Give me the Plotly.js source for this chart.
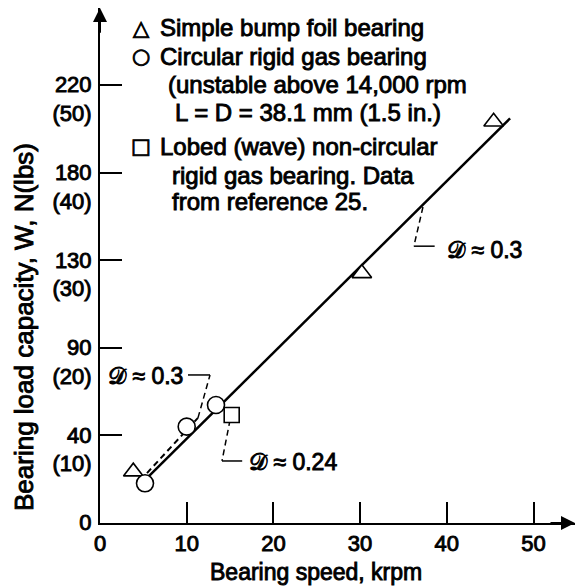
<!DOCTYPE html>
<html>
<head>
<meta charset="utf-8">
<script src="https://cdn.plot.ly/plotly-3.0.1.min.js"></script>
<style>
html,body{margin:0;padding:0;background:#fff;}
#chart{width:575px;height:587px;}
#chart svg text{stroke:#000;stroke-width:0.9px;}
</style>
</head>
<body>
<div id="chart"></div>
<script>
// ---- data (x: bearing speed, krpm; y: load capacity, lbs) ----
const bumpSpeed = [3.84, 30.2, 45.4];
const bumpLoad = [5.86, 28.5, 45.8];
const circSpeed = [5.19, 10.0, 13.38];
const circLoad = [4.53, 11.0, 13.47];
const lobedSpeed = [15.19];
const lobedLoad = [12.33];
const fitSpeed = [5.38, 47.3];
const fitLoad = [5.10, 46.2];
const circFitSpeed = [5.42, 11.3];
const circFitLoad = [5.7, 12.0];
// leader lines for damping labels
const leadA_dashX = [11.3, 12.69], leadA_dashY = [12.0, 16.9];
const leadA_solX = [12.69, 10.15], leadA_solY = [16.9, 16.9];
const leadB_dashX = [37.25, 36.2], leadB_dashY = [36.07, 31.6];
const leadB_solX = [36.2, 38.6], leadB_solY = [31.6, 31.6];
const leadC_dashX = [15.0, 14.07], leadC_dashY = [11.76, 7.08];
const leadC_solX = [14.07, 16.4], leadC_solY = [7.08, 7.08];

const xTickVals = [0, 10, 20, 30, 40, 50];
const xTickText = ['0', '10', '20', '30', '40', '50'];
const yTickVals = [0, 10, 20, 30, 40, 50];
const yTickN = ['0', '40', '90', '130', '180', '220'];
const yTickLbs = ['\u00a0', '(10)', '(20)', '(30)', '(40)', '(50)'];

const xTitle = 'Bearing speed, krpm';
const yTitle = 'Bearing load capacity, W, N(lbs)';

const legendLines = [
  {sym: '\u25B3', text: 'Simple bump foil bearing', indent: 0},
  {sym: '\u25CB', text: 'Circular rigid gas bearing', indent: 0},
  {sym: '', text: '(unstable above 14,000 rpm', indent: 8},
  {sym: '', text: 'L = D = 38.1 mm (1.5 in.)', indent: 15},
  {sym: '\u25A1', text: 'Lobed (wave) non-circular', indent: 0},
  {sym: '', text: 'rigid gas bearing. Data', indent: 12},
  {sym: '', text: 'from reference 25.', indent: 12}
];
const legendRowY = [28, 56, 84, 112, 146, 175, 201];

const dampLabels = [
  {x: 9.8, y: 16.78, text: '\uD835\uDC9F \u2248 0.3', anchor: 'right'},
  {x: 39.8, y: 31.2, text: '\uD835\uDC9F \u2248 0.3', anchor: 'left'},
  {x: 17.0, y: 6.96, text: '\uD835\uDC9F \u2248 0.24', anchor: 'left'}
];

// ---- layout geometry ----
const L = 100, R = 0, T = 8, B = 64, W = 575, H = 587;
const pw = W - L - R, ph = H - T - B;
const xMax = pw / 8.67, yMax = ph / 8.76;
const px = v => (v - L) / pw;
const py = v => (H - B - v) / ph;

const FONT = 'Liberation Sans, Arial, Helvetica, sans-serif';
const black = '#000';

const traces = [
  {x: fitSpeed, y: fitLoad, mode: 'lines', line: {color: black, width: 2.5}, hoverinfo: 'skip'},
  {x: circFitSpeed, y: circFitLoad, mode: 'lines', line: {color: black, width: 2, dash: '6px,4px'}, hoverinfo: 'skip'},
  {x: leadA_dashX, y: leadA_dashY, mode: 'lines', line: {color: black, width: 1.5, dash: '6px,4px'}},
  {x: leadA_solX, y: leadA_solY, mode: 'lines', line: {color: black, width: 1.5}},
  {x: leadB_dashX, y: leadB_dashY, mode: 'lines', line: {color: black, width: 1.5, dash: '6px,4px'}},
  {x: leadB_solX, y: leadB_solY, mode: 'lines', line: {color: black, width: 1.5}},
  {x: leadC_dashX, y: leadC_dashY, mode: 'lines', line: {color: black, width: 1.5, dash: '6px,4px'}},
  {x: leadC_solX, y: leadC_solY, mode: 'lines', line: {color: black, width: 1.5}},
  {x: bumpSpeed, y: bumpLoad, mode: 'markers', name: 'Simple bump foil bearing',
   marker: {symbol: 'triangle-up', size: 17, color: '#fff', line: {color: black, width: 1.6}}},
  {x: circSpeed, y: circLoad, mode: 'markers', name: 'Circular rigid gas bearing',
   marker: {symbol: 'circle', size: 17, color: '#fff', line: {color: black, width: 1.6}}},
  {x: lobedSpeed, y: lobedLoad, mode: 'markers', name: 'Lobed (wave) non-circular rigid gas bearing',
   marker: {symbol: 'square', size: 15, color: '#fff', line: {color: black, width: 1.6}}}
];

const annotations = [];
legendLines.forEach((row, i) => {
  if (row.sym) {
    annotations.push({xref: 'paper', yref: 'paper', x: px(141), y: py(legendRowY[i]),
      text: row.sym, showarrow: false, xanchor: 'center', yanchor: 'middle',
      font: {family: 'DejaVu Sans', size: 21, color: black}});
  }
  annotations.push({xref: 'paper', yref: 'paper', x: px(158 + row.indent), y: py(legendRowY[i]),
    text: row.text, showarrow: false, xanchor: 'left', yanchor: 'middle',
    font: {family: FONT, size: 24, color: black}});
});
dampLabels.forEach(d => {
  annotations.push({x: d.x, y: d.y, xref: 'x', yref: 'y', text: d.text, showarrow: false,
    xanchor: d.anchor, yanchor: 'middle', font: {family: FONT, size: 23, color: black}});
});
// axis titles
annotations.push({xref: 'paper', yref: 'paper', x: px(316), y: py(572), text: xTitle,
  showarrow: false, xanchor: 'center', yanchor: 'middle', font: {family: FONT, size: 23, color: black}});
annotations.push({xref: 'paper', yref: 'paper', x: px(24), y: py(327), text: yTitle, textangle: -90,
  showarrow: false, xanchor: 'center', yanchor: 'middle', font: {family: FONT, size: 26, color: black}});
// axis arrowheads
annotations.push({x: xMax, y: 0, ax: xMax - 3, ay: 0, xref: 'x', yref: 'y', axref: 'x', ayref: 'y',
  text: '', showarrow: true, arrowhead: 2, arrowsize: 1.4, arrowwidth: 2, arrowcolor: black});
annotations.push({x: 0, y: yMax, ax: 0, ay: yMax - 3, xref: 'x', yref: 'y', axref: 'x', ayref: 'y',
  text: '', showarrow: true, arrowhead: 2, arrowsize: 1.4, arrowwidth: 2, arrowcolor: black});

const layout = {
  width: W, height: H,
  margin: {l: L, r: R, t: T, b: B, pad: 0},
  paper_bgcolor: '#fff', plot_bgcolor: '#fff',
  showlegend: false,
  font: {family: FONT, color: black},
  xaxis: {
    range: [0, xMax], showgrid: false, zeroline: false,
    showline: true, linecolor: black, linewidth: 2,
    ticks: 'inside', ticklen: 21, tickwidth: 2, tickcolor: black,
    tickvals: xTickVals, ticktext: xTickText,
    tickfont: {family: FONT, size: 22, color: black},
    ticklabelstandoff: 0
  },
  yaxis: {
    range: [0, yMax], showgrid: false, zeroline: false,
    showline: true, linecolor: black, linewidth: 2,
    ticks: 'inside', ticklen: 22, tickwidth: 2, tickcolor: black,
    tickvals: yTickVals, ticktext: yTickN.map((n, i) => n + '<br>' + yTickLbs[i]),
    tickfont: {family: FONT, size: 22, color: black},
    ticklabelshift: 14, ticklabelstandoff: 2
  },
  annotations: annotations
};

Plotly.newPlot('chart', traces, layout, {displayModeBar: false, staticPlot: true});
</script>
</body>
</html>
